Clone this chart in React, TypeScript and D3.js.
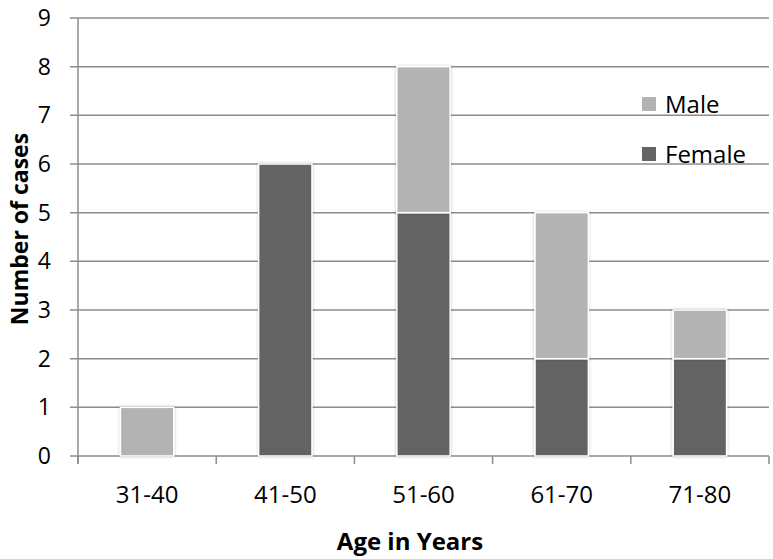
import React, { useEffect, useRef } from 'react';
import * as d3 from 'd3';

const categories = ['31-40', '41-50', '51-60', '61-70', '71-80'];
const female = [0, 6, 5, 2, 2];
const male = [1, 0, 3, 3, 1];
const yTicks = [0, 1, 2, 3, 4, 5, 6, 7, 8, 9];
const seriesNames = ['Female', 'Male'];

const W = 773;
const H = 559;
const FONT = '"Open Sans", Lato, sans-serif';

const App = () => {
  const ref = useRef<SVGSVGElement>(null);

  useEffect(() => {
    const svg = d3.select(ref.current);
    svg.selectAll('*').remove();

    const left = 78, right = 769, top = 18, bottom = 456;
    const x = d3.scaleBand().domain(categories).range([left, right]).paddingInner(0.614).paddingOuter(0.307);
    const xb = d3.scaleBand().domain(categories).range([left, right]);
    const y = d3.scaleLinear().domain([0, 9]).range([bottom, top]);
    const color = d3.scaleOrdinal<string>().domain(seriesNames).range(['#646464', '#b3b3b3']);

    const rows = categories.map((c, i) => ({ cat: c, Female: female[i], Male: male[i] }));
    const stacked = d3.stack<any>().keys(seriesNames)(rows);

    // gridlines
    svg.append('g')
      .selectAll('line')
      .data(yTicks)
      .enter()
      .append('line')
      .attr('x1', left - 8)
      .attr('x2', right)
      .attr('y1', d => y(d))
      .attr('y2', d => y(d))
      .attr('stroke', '#8c8c8c')
      .attr('stroke-width', 1.5);

    // y axis line
    svg.append('line')
      .attr('x1', left).attr('x2', left)
      .attr('y1', top).attr('y2', bottom + 8)
      .attr('stroke', '#8c8c8c').attr('stroke-width', 1.5);

    // x ticks at band edges
    const edges = categories.map(c => xb(c)!).concat([right]);
    svg.append('g')
      .selectAll('line')
      .data(edges)
      .enter()
      .append('line')
      .attr('x1', d => d).attr('x2', d => d)
      .attr('y1', bottom).attr('y2', bottom + 8)
      .attr('stroke', '#8c8c8c').attr('stroke-width', 1.5);

    // bar shadow filter
    const defs = svg.append('defs');
    const f = defs.append('filter').attr('id', 'sh').attr('x', '-20%').attr('y', '-5%').attr('width', '140%').attr('height', '110%');
    f.append('feDropShadow').attr('dx', 0).attr('dy', 0).attr('stdDeviation', 1.5).attr('flood-color', '#000').attr('flood-opacity', 0.25);

    const layers = svg.append('g')
      .selectAll('g')
      .data(stacked)
      .enter()
      .append('g')
      .attr('fill', d => color(d.key));

    layers.selectAll('rect')
      .data(d => d.filter(s => s[1] - s[0] > 0))
      .enter()
      .append('rect')
      .attr('x', (d: any) => x(d.data.cat)!)
      .attr('width', x.bandwidth())
      .attr('y', d => y(d[1]))
      .attr('height', d => y(d[0]) - y(d[1]))
      .attr('stroke', '#fff')
      .attr('stroke-width', 1.5)
      .attr('filter', 'url(#sh)');

    // y tick labels
    svg.append('g')
      .selectAll('text')
      .data(yTicks)
      .enter()
      .append('text')
      .attr('x', 51)
      .attr('y', d => y(d) + 8)
      .attr('text-anchor', 'end')
      .attr('font-family', FONT)
      .attr('font-size', 23)
      .attr('fill', '#000')
      .text(d => d);

    // x labels
    svg.append('g')
      .selectAll('text')
      .data(categories)
      .enter()
      .append('text')
      .attr('x', d => xb(d)! + xb.bandwidth() / 2)
      .attr('y', 503)
      .attr('text-anchor', 'middle')
      .attr('font-family', FONT)
      .attr('font-size', 24)
      .text(d => d);

    svg.append('text')
      .attr('x', 410).attr('y', 550)
      .attr('text-anchor', 'middle')
      .attr('font-family', FONT)
      .attr('font-size', 24)
      .attr('font-weight', 'bold')
      .text('Age in Years');

    svg.append('text')
      .attr('transform', `translate(28,229) rotate(-90)`)
      .attr('text-anchor', 'middle')
      .attr('font-family', FONT)
      .attr('font-size', 23)
      .attr('font-weight', 'bold')
      .text('Number of cases');

    // legend
    const legend = svg.append('g')
      .selectAll('g')
      .data(['Male', 'Female'])
      .enter()
      .append('g')
      .attr('transform', (d, i) => `translate(642,${97 + i * 50})`);
    legend.append('rect').attr('width', 14).attr('height', 14).attr('fill', d => color(d));
    legend.append('text')
      .attr('x', 23).attr('y', 16)
      .attr('font-family', FONT)
      .attr('font-size', 24)
      .text(d => d);
  }, []);

  return (
    <svg ref={ref} width={W} height={H} style={{ position: 'absolute', left: 0, top: 0, background: '#fff' }} />
  );
};

export default App;
